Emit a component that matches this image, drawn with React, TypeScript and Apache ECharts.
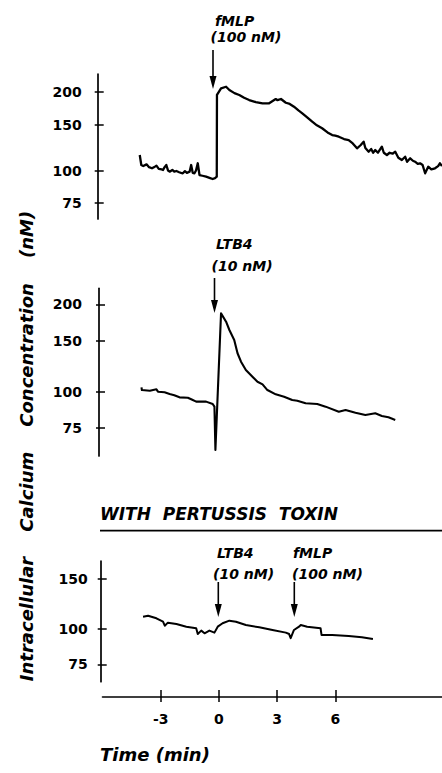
import React, { useEffect, useRef } from "react";
import * as echarts from "echarts";

// time (min) ticks and concentration (nM) ticks
const xTicks = [-3, 0, 3, 6];
const yTicksUpper = [75, 100, 150, 200];
const yTicksLower = [75, 100, 150];

// Panel A: fMLP (100 nM) response  [time min, Ca nM]
const fmlpTrace: [number, number][] = [
  [-4.08, 114.7], [-4.0, 105.0], [-3.9, 104.0], [-3.73, 105.6], [-3.6, 103.0], [-3.45, 102.0],
  [-3.3, 103.5], [-3.22, 104.4], [-3.1, 101.5], [-2.95, 101.0], [-2.88, 100.5], [-2.8, 103.0],
  [-2.71, 105.0], [-2.62, 100.0], [-2.54, 99.0], [-2.4, 100.5], [-2.3, 99.0], [-2.19, 99.6],
  [-2.05, 98.5], [-1.95, 98.0], [-1.86, 97.6], [-1.75, 99.5], [-1.65, 98.0], [-1.51, 99.0],
  [-1.43, 105.0], [-1.35, 98.0], [-1.26, 97.6], [-1.18, 100.0], [-1.09, 106.6], [-1.0, 96.1],
  [-0.85, 95.5], [-0.66, 94.7], [-0.45, 93.5], [-0.32, 92.8], [-0.2, 93.5], [-0.11, 94.7],
  [-0.1, 194.8], [0.11, 206.5], [0.37, 209.5], [0.54, 203.5], [0.8, 198.0], [1.05, 194.8],
  [1.3, 190.0], [1.56, 186.3], [1.9, 183.0], [2.25, 181.0], [2.59, 181.0], [2.93, 187.9],
  [3.02, 186.0], [3.2, 188.0], [3.45, 181.9], [3.65, 180.0], [3.87, 175.6], [4.1, 170.0],
  [4.3, 165.7], [4.55, 160.0], [4.81, 153.9], [5.05, 149.0], [5.32, 145.2], [5.6, 140.0],
  [5.84, 136.8], [6.0, 136.0], [6.18, 134.8], [6.45, 132.0], [6.69, 130.9], [6.9, 127.0],
  [7.12, 121.7], [7.3, 125.0], [7.46, 129.0], [7.55, 122.0], [7.72, 118.1], [7.85, 121.0],
  [7.95, 117.0], [8.06, 119.8], [8.2, 117.0], [8.4, 123.4], [8.5, 117.0], [8.66, 114.7],
  [8.8, 117.0], [8.95, 116.0], [9.09, 118.1], [9.25, 112.0], [9.43, 109.7], [9.6, 113.0],
  [9.7, 108.0], [9.86, 111.4], [10.0, 109.0], [10.11, 108.1], [10.25, 106.0], [10.37, 106.6],
  [10.5, 105.0], [10.63, 97.6], [10.79, 103.4], [10.95, 101.0], [11.14, 102.0], [11.3, 104.0],
  [11.39, 106.6], [11.5, 104.0],
];

// Panel B: LTB4 (10 nM) response
const ltb4Trace: [number, number][] = [
  [-3.99, 103.5], [-3.97, 101.3], [-3.56, 100.8], [-3.22, 101.9], [-3.14, 100.0], [-2.8, 99.5],
  [-2.54, 98.2], [-2.3, 97.2], [-2.03, 95.6], [-1.6, 95.3], [-1.4, 94.0], [-1.17, 92.4],
  [-0.66, 92.4], [-0.32, 90.7], [-0.23, 88.8], [-0.18, 62.9], [0.11, 186.3], [0.37, 174.3],
  [0.54, 163.2], [0.79, 150.8], [0.96, 135.7], [1.14, 126.9], [1.39, 118.8], [1.73, 112.6],
  [1.99, 108.2], [2.25, 106.0], [2.5, 101.3], [2.93, 97.9], [3.36, 96.1], [3.78, 93.6],
  [4.04, 93.1], [4.47, 91.2], [5.07, 90.7], [5.5, 88.8], [6.18, 85.3], [6.53, 86.5],
  [7.04, 84.6], [7.55, 83.1], [8.06, 84.2], [8.4, 82.5], [8.74, 81.6], [9.0, 80.3], [9.09, 79.9],
];

// Panel C: with pertussis toxin, LTB4 then fMLP
const pertussisTrace: [number, number][] = [
  [-3.91, 110.4], [-3.65, 111.3], [-3.22, 109.0], [-2.88, 106.0], [-2.79, 102.6], [-2.63, 105.2],
  [-2.19, 104.1], [-1.68, 101.8], [-1.17, 100.5], [-1.09, 95.9], [-0.91, 98.6], [-0.74, 96.5],
  [-0.49, 98.6], [-0.23, 97.0], [-0.06, 101.8], [0.19, 104.7], [0.54, 106.9], [0.88, 106.0],
  [1.39, 103.2], [2.08, 101.3], [2.76, 99.1], [3.45, 97.0], [3.62, 95.9], [3.7, 92.7],
  [3.87, 99.1], [4.13, 101.8], [4.22, 103.2], [4.55, 101.8], [5.24, 100.5], [5.29, 95.2],
  [5.84, 95.2], [6.69, 94.4], [7.37, 93.4], [7.94, 92.1],
];

const FONT = "DejaVu Sans";

export default function App() {
  const ref = useRef<HTMLDivElement>(null);
  useEffect(() => {
    if (!ref.current) return;
    const chart = echarts.init(ref.current, undefined, { renderer: "svg" });

    const gridLeft = 102.5;
    const gridWidth = 341.25;
    const grids = [
      { left: gridLeft, width: gridWidth, top: 74, height: 145 },
      { left: gridLeft, width: gridWidth, top: 288.3, height: 167.7 },
      { left: gridLeft, width: gridWidth, top: 561, height: 120.7 },
    ];
    const yRanges = [
      [65.2, 234.4],
      [60.0, 227.3],
      [65.1, 173.6],
    ];
    const yOffsets = [4.8, 3.5, 1.8];
    const yMargins = [16, 17, 13];
    const yTickSets = [yTicksUpper, yTicksUpper, yTicksLower];

    const labelStyle = {
      color: "#000",
      fontFamily: FONT,
      fontWeight: "bold" as const,
      fontSize: 14,
    };

    const yAxes: any[] = [];
    grids.forEach((_, i) => {
      yAxes.push({
        type: "log",
        logBase: 10,
        gridIndex: i,
        position: "left",
        offset: yOffsets[i],
        min: yRanges[i][0],
        max: yRanges[i][1],
        splitLine: { show: false },
        axisLine: { show: true, onZero: false, lineStyle: { color: "#000", width: 1.7 } },
        axisTick: {
          show: true,
          inside: true,
          length: 6,
          customValues: yTickSets[i],
          lineStyle: { color: "#000", width: 1.5 },
        },
        minorTick: { show: false },
        axisLabel: {
          ...labelStyle,
          margin: yMargins[i],
          customValues: yTickSets[i],
          formatter: (v: number) => String(Math.round(v)),
        },
      });
      yAxes.push({
        type: "log",
        logBase: 10,
        gridIndex: i,
        position: "left",
        offset: yOffsets[i],
        min: yRanges[i][0],
        max: yRanges[i][1],
        splitLine: { show: false },
        axisLine: { show: false, onZero: false },
        axisTick: {
          show: true,
          inside: false,
          length: 3,
          customValues: yTickSets[i],
          lineStyle: { color: "#000", width: 1.5 },
        },
        axisLabel: { show: false },
      });
    });

    const xBase = { type: "value", min: -6, max: 11.5, splitLine: { show: false } };
    const xAxes: any[] = [
      { ...xBase, gridIndex: 0, show: false, axisLine: { onZero: false } },
      { ...xBase, gridIndex: 1, show: false, axisLine: { onZero: false } },
      {
        ...xBase,
        gridIndex: 2,
        position: "bottom",
        offset: 15.3,
        axisLine: { show: true, onZero: false, lineStyle: { color: "#000", width: 1.6 } },
        axisTick: {
          show: true,
          inside: true,
          length: 7,
          customValues: xTicks,
          lineStyle: { color: "#000", width: 1.5 },
        },
        axisLabel: { ...labelStyle, margin: 15, customValues: xTicks },
      },
      {
        ...xBase,
        gridIndex: 2,
        position: "bottom",
        offset: 15.3,
        axisLine: { show: false, onZero: false },
        axisTick: {
          show: true,
          inside: false,
          length: 5,
          customValues: xTicks,
          lineStyle: { color: "#000", width: 1.5 },
        },
        axisLabel: { show: false },
      },
    ];

    const traces = [fmlpTrace, ltb4Trace, pertussisTrace];
    const widths = [2.3, 2.1, 2.0];
    const series = traces.map((d, i) => ({
      type: "line",
      xAxisIndex: i,
      yAxisIndex: i * 2,
      data: d,
      symbol: "none",
      showSymbol: false,
      clip: false,
      lineStyle: { color: "#000", width: widths[i], join: "round" },
      z: 3,
    }));

    const annFont = {
      fontFamily: FONT,
      fontWeight: "bold",
      fontStyle: "italic",
      fontSize: 14,
      fill: "#000",
      verticalAlign: "middle",
      align: "left",
    };
    const txt = (text: string, x: number, y: number) => ({
      type: "text",
      x,
      y,
      style: { ...annFont, text },
      z: 10,
    });
    const arrow = (x: number, y0: number, y1: number) => [
      {
        type: "line",
        shape: { x1: x, y1: y0, x2: x, y2: y1 - 10 },
        style: { stroke: "#000", lineWidth: 1.6 },
        z: 10,
      },
      {
        type: "polygon",
        shape: { points: [[x - 3.5, y1 - 13], [x + 3.5, y1 - 13], [x, y1]] },
        style: { fill: "#000" },
        z: 10,
      },
    ];

    const bigFont = {
      fontFamily: FONT,
      fontStyle: "italic",
      fontWeight: "bold",
      fill: "#000",
    };

    const graphic: any[] = [
      txt("fMLP", 215, 21),
      txt("(100 nM)", 210.5, 37),
      ...arrow(213, 50, 89),
      txt("LTB4", 216, 243.5),
      txt("(10 nM)", 211.5, 266),
      ...arrow(214.5, 278, 313),
      txt("LTB4", 217, 552.5),
      txt("(10 nM)", 213, 574),
      ...arrow(218.3, 582, 617),
      txt("fMLP", 293, 552.5),
      txt("(100 nM)", 292, 574),
      ...arrow(294.3, 582, 617),
      {
        type: "text",
        x: 100,
        y: 514,
        style: {
          ...bigFont,
          text: "WITH  PERTUSSIS  TOXIN",
          fontSize: 17,
          align: "left",
          verticalAlign: "middle",
        },
      },
      {
        type: "line",
        shape: { x1: 100, y1: 530.7, x2: 442, y2: 530.7 },
        style: { stroke: "#000", lineWidth: 1.7 },
      },
      {
        type: "text",
        x: 100,
        y: 754,
        style: {
          ...bigFont,
          text: "Time (min)",
          fontSize: 18,
          align: "left",
          verticalAlign: "middle",
        },
      },
      {
        type: "text",
        x: 26,
        y: 446,
        rotation: Math.PI / 2,
        style: {
          ...bigFont,
          text: "Intracellular    Calcium    Concentration    (nM)",
          fontSize: 18,
          align: "center",
          verticalAlign: "middle",
        },
      },
    ];

    chart.setOption({
      animation: false,
      backgroundColor: "#fff",
      grid: grids,
      xAxis: xAxes,
      yAxis: yAxes,
      series,
      graphic,
    });
    return () => chart.dispose();
  }, []);

  return (
    <div
      ref={ref}
      style={{ position: "fixed", left: 0, top: 0, width: 442, height: 773, background: "#fff" }}
    />
  );
}
